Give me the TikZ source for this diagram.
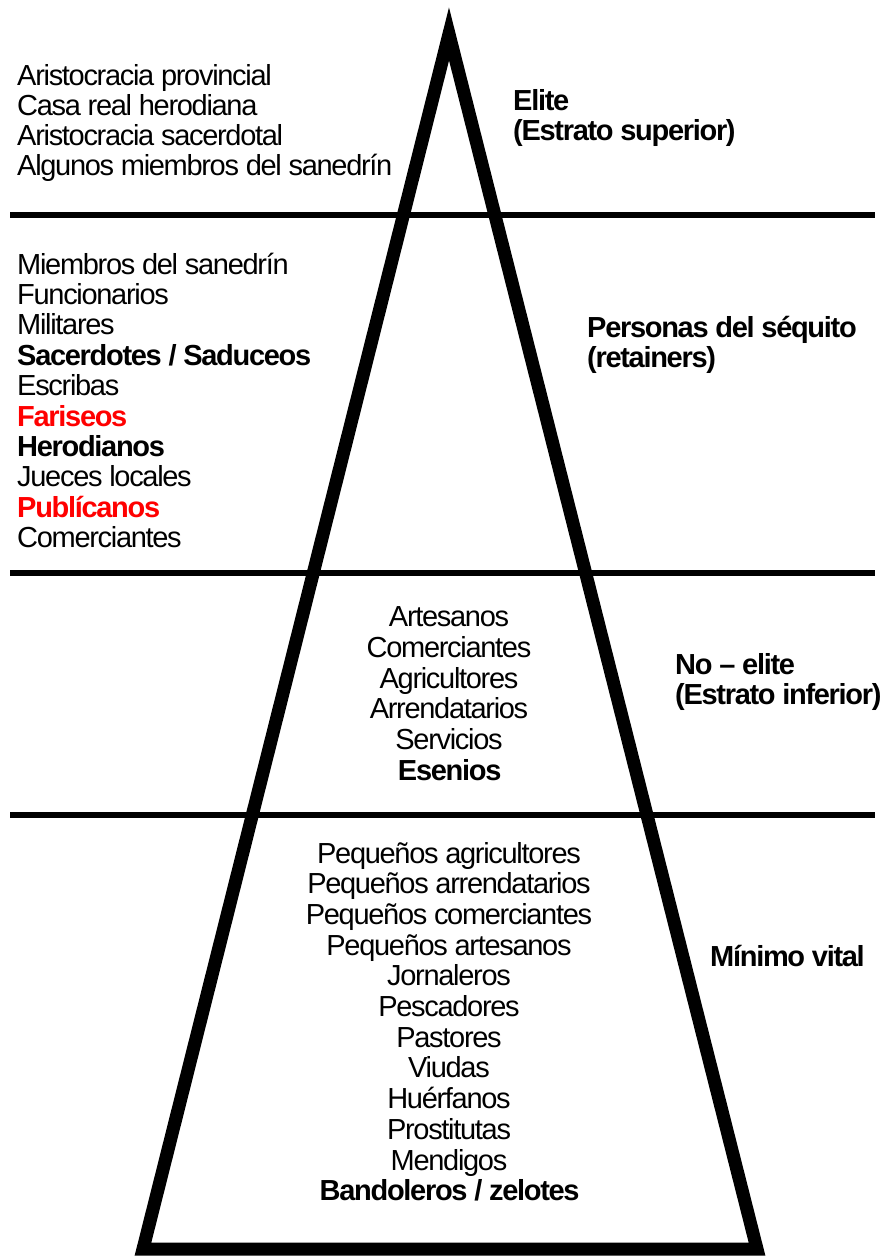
\documentclass[tikz,border=0pt]{standalone}
\usepackage{fontspec}
\setmainfont{Liberation Sans}[LetterSpace=-4.5]
\newcommand{\bodyfont}{\fontsize{29}{30}\selectfont}
\newcommand{\redbold}[1]{\textcolor{red}{\textbf{#1}}}

\begin{document}
\begin{tikzpicture}[
    x=1pt, y=-1pt,
    lbl/.style={inner sep=0pt, font=\bodyfont, anchor=base west},
    mid/.style={inner sep=0pt, font=\bodyfont, anchor=base},
    stratum/.style={inner sep=0pt, font=\bodyfont\bfseries, anchor=base west, align=left},
    pyramid/.style={line width=13pt, line join=miter},
    divider/.style={line width=6pt}
]
    \useasboundingbox (0,0) rectangle (887,1257);

    % Pyramid
    \coordinate (apex) at (449,34);
    \coordinate (baseL) at (143,1249);
    \coordinate (baseR) at (757,1249);
    \draw[pyramid] (apex) -- (baseL) -- (baseR) -- cycle;

    % Dividers between strata
    \foreach \y [count=\k] in {215,573,815} {
        \coordinate (divL-\k) at (10,\y);
        \coordinate (divR-\k) at (875,\y);
        \draw[divider] (divL-\k) -- (divR-\k);
    }

    % Elite
    \foreach \txt [count=\i from 0] in {Aristocracia provincial, Casa real herodiana,
        Aristocracia sacerdotal, Algunos miembros del sanedrín}
        \node[lbl] (elite-\i) at (17,86+30*\i) {\txt};

    % Retainers
    \foreach \txt [count=\i from 0] in {Miembros del sanedrín, Funcionarios, Militares,
        \textbf{Sacerdotes / Saduceos}, Escribas, \redbold{Fariseos}, \textbf{Herodianos},
        Jueces locales, \redbold{Publícanos}, Comerciantes}
        \node[lbl] (ret-\i) at (17,274+30.4*\i) {\txt};

    % No-elite
    \foreach \txt [count=\i from 0] in {Artesanos, Comerciantes, Agricultores,
        Arrendatarios, Servicios, \textbf{Esenios}}
        \node[mid] (noel-\i) at (449,626.7+30.66*\i) {\txt};

    % Minimo vital
    \foreach \txt [count=\i from 0] in {Pequeños agricultores, Pequeños arrendatarios,
        Pequeños comerciantes, Pequeños artesanos, Jornaleros, Pescadores, Pastores,
        Viudas, Huérfanos, Prostitutas, Mendigos, \textbf{Bandoleros / zelotes}}
        \node[mid] (min-\i) at (449,863+30.7*\i) {\txt};

    % Strata labels (base = last line)
    \node[stratum] (lab-elite) at (513,141) {Elite\\(Estrato superior)};
    \node[stratum] (lab-ret) at (587,367) {Personas del séquito\\(retainers)};
    \node[stratum] (lab-noel) at (675,704) {No – elite\\(Estrato inferior)};
    \node[stratum] (lab-min) at (710,966.7) {Mínimo vital};
\end{tikzpicture}
\end{document}
